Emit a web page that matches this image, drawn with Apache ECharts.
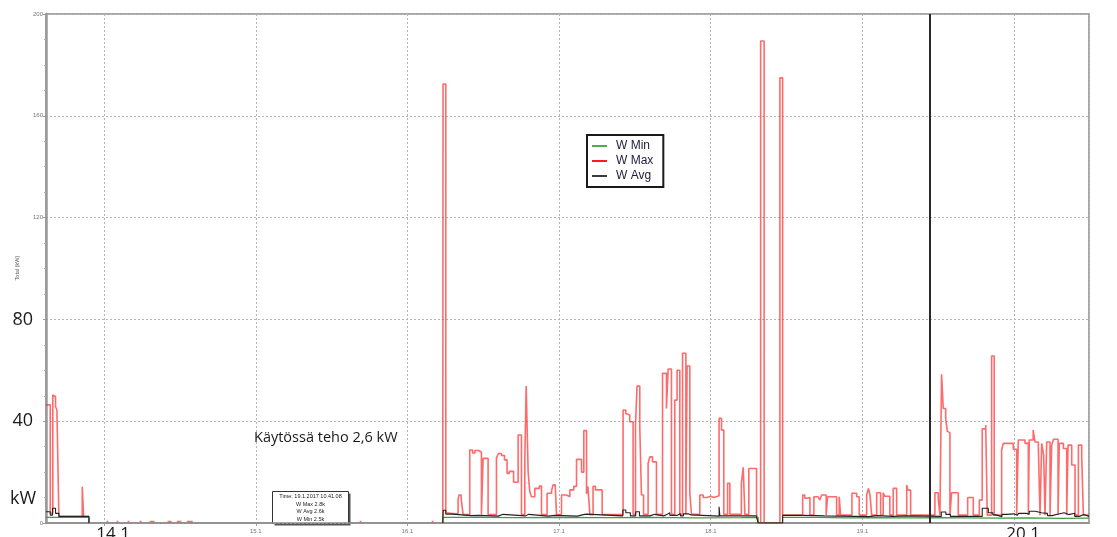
<!DOCTYPE html>
<html>
<head>
<meta charset="utf-8">
<script src="https://cdn.jsdelivr.net/npm/echarts@6/dist/echarts.min.js"></script>
<style>
  html, body { margin: 0; padding: 0; background: #fff; }
  #chart { width: 1117px; height: 537px; }
</style>
</head>
<body>
<div id="chart"></div>
<script>
// Time is given as day of January 2017 (fraction = time of day), power in kW.
const axisStart = 13.617;
const axisEnd = 20.494;
const cursorTime = '2017-01-19T10:41:08';

const seriesNames = ['W Min', 'W Max', 'W Avg'];

// Per-interval maximum power
const wMax = [
  [13.617, 46.4], [13.645, 3.8], [13.662, 50.3], [13.673, 49.6], [13.680, 45.7], [13.689, 44.4],
  [13.702, 2.5], [13.856, 14.2], [13.865, 2.5], [13.900, 0], [13.903, null],
  [14.016, 0.6], [14.028, 0.6], [14.029, null], [14.082, 0.6], [14.094, 0.6], [14.095, null],
  [14.155, 0.6], [14.167, 0.6], [14.168, null], [14.234, 0.6], [14.246, 0.6], [14.247, null],
  [14.300, 0.6], [14.333, 0.6], [14.334, null], [14.419, 0.6], [14.445, 0.6], [14.446, null],
  [14.480, 0.6], [14.510, 0.6], [14.511, null], [14.545, 0.6], [14.584, 0.6], [14.585, null],
  [15.685, 0.6], [15.697, 0.6], [15.698, null], [16.160, 0.6], [16.172, 0.6], [16.173, null],
  [16.233, 0], [16.235, 172.5], [16.253, 4.0], [16.262, 3.5], [16.334, 9.3], [16.340, 11.0],
  [16.355, 9.3], [16.367, 3.3], [16.411, 28.7], [16.430, 27.5], [16.445, 28.5], [16.470, 27.8],
  [16.488, 3.3], [16.499, 25.4], [16.532, 3.3], [16.587, 25.5], [16.600, 27.3], [16.620, 26.5],
  [16.640, 24.8], [16.657, 19.5], [16.672, 20.3], [16.700, 16.0], [16.730, 34.6], [16.752, 3.3],
  [16.774, 24.7], [16.783, 53.8], [16.796, 20.0], [16.807, 12.3], [16.818, 10.3], [16.840, 13.6],
  [16.870, 14.5], [16.884, 3.3], [16.921, 11.7], [16.950, 12.5], [16.960, 15.0], [16.975, 14.0],
  [16.983, 3.3], [17.016, 11.0], [17.049, 10.3], [17.071, 13.0], [17.097, 14.4], [17.115, 25.0],
  [17.148, 20.0], [17.163, 36.3], [17.181, 11.5], [17.190, 14.4], [17.203, 3.3], [17.224, 14.4],
  [17.240, 13.0], [17.284, 3.3], [17.422, 44.4], [17.440, 43.0], [17.452, 42.4], [17.466, 39.8],
  [17.488, 3.4], [17.504, 38.5], [17.514, 53.8], [17.532, 37.8], [17.543, 11.0], [17.557, 3.4],
  [17.587, 23.4], [17.598, 26.0], [17.616, 24.0], [17.642, 3.4], [17.682, 58.8], [17.708, 45.0],
  [17.719, 60.5], [17.741, 3.4], [17.763, 48.3], [17.778, 60.0], [17.796, 3.4], [17.814, 66.7],
  [17.836, 3.4], [17.844, 61.7], [17.862, 11.7], [17.873, 3.4], [17.928, 11.0], [17.950, 10.0],
  [17.975, 10.5], [18.000, 10.0], [18.020, 10.7], [18.055, 41.1], [18.071, 36.5], [18.086, 3.4],
  [18.111, 15.6], [18.126, 3.4], [18.202, 15.6], [18.214, 21.9], [18.225, 3.4], [18.251, 21.4],
  [18.302, 3.4], [18.313, 0], [18.329, 189.4], [18.352, 0], [18.456, 174.9], [18.474, 3.1],
  [18.606, 11.0], [18.620, 9.7], [18.635, 10.0], [18.654, 3.1], [18.680, 10.3], [18.708, 11.0],
  [18.719, 9.0], [18.731, 11.0], [18.761, 3.1], [18.770, 10.3], [18.830, 3.1], [18.847, 10.3],
  [18.856, 3.1], [18.931, 11.7], [18.962, 10.3], [18.979, 3.1], [19.028, 11.0], [19.040, 13.6],
  [19.050, 11.0], [19.061, 3.1], [19.094, 11.9], [19.120, 3.1], [19.137, 11.9], [19.148, 10.5],
  [19.181, 3.1], [19.203, 13.6], [19.226, 3.1], [19.292, 14.9], [19.300, 12.9], [19.318, 3.1],
  [19.478, 11.9], [19.500, 9.6], [19.511, 3.1], [19.522, 58.4], [19.533, 45.0], [19.549, 41.0],
  [19.560, 36.0], [19.566, 35.5], [19.577, 3.1], [19.588, 11.9], [19.632, 3.1], [19.694, 10.0],
  [19.731, 3.1], [19.771, 9.0], [19.790, 37.0], [19.813, 38.5], [19.823, 3.1], [19.852, 65.6],
  [19.869, 3.1], [19.918, 28.7], [19.929, 31.3], [19.995, 29.0], [20.017, 3.1], [20.028, 32.6],
  [20.072, 31.3], [20.094, 3.1], [20.100, 32.6], [20.126, 36.5], [20.138, 31.8], [20.160, 30.0],
  [20.171, 3.1], [20.182, 31.3], [20.195, 26.7], [20.204, 3.1], [20.215, 31.8], [20.237, 3.1],
  [20.248, 30.6], [20.260, 32.9], [20.290, 3.1], [20.298, 31.3], [20.325, 29.3], [20.347, 3.1],
  [20.356, 30.6], [20.380, 22.8], [20.402, 3.1], [20.424, 30.6], [20.446, 26.0], [20.457, 3.1],
  [20.494, 3.1]
];

// Per-interval average power
const wAvg = [
  [13.617, 4.4], [13.645, 3.1], [13.660, 5.8], [13.680, 3.8], [13.702, 2.6], [13.900, 0], [13.903, null],
  [16.233, 0], [16.236, 5.0], [16.253, 3.5], [16.300, 2.9], [16.420, 3.0], [16.470, 2.7],
  [16.600, 3.4], [16.630, 2.8], [16.780, 3.4], [16.800, 2.7], [16.930, 3.0], [16.970, 2.7],
  [17.120, 3.3], [17.160, 3.5], [17.180, 2.8], [17.420, 5.1], [17.440, 4.0], [17.470, 2.8],
  [17.505, 4.4], [17.530, 2.8], [17.600, 3.4], [17.630, 2.8], [17.690, 3.3], [17.710, 4.0],
  [17.730, 3.0], [17.780, 3.6], [17.800, 2.8], [17.820, 3.6], [17.850, 3.2], [17.870, 2.7],
  [18.055, 6.4], [18.060, 2.8], [18.300, 2.7], [18.313, 0], [18.474, 3.0], [18.610, 2.9],
  [18.700, 2.8], [18.750, 2.5], [19.040, 2.9], [19.100, 2.6], [19.200, 2.8], [19.300, 2.6],
  [19.520, 4.3], [19.550, 3.4], [19.580, 2.6], [19.790, 5.8], [19.830, 4.0], [19.860, 3.2],
  [19.880, 2.5], [19.920, 3.4], [19.950, 3.6], [20.000, 3.0], [20.020, 2.6], [20.030, 3.8],
  [20.080, 3.4], [20.100, 4.6], [20.140, 4.0], [20.180, 3.8], [20.220, 2.9], [20.250, 3.6],
  [20.300, 4.0], [20.330, 3.3], [20.360, 3.8], [20.400, 2.6], [20.430, 3.3], [20.460, 2.6],
  [20.494, 2.6]
];

// Per-interval minimum power
const wMin = [
  [13.617, 2.2], [13.900, 0], [13.903, null],
  [16.233, 0], [16.236, 2.2], [16.500, 2.1], [16.700, 2.2], [17.000, 2.1], [17.300, 2.2],
  [17.600, 2.0], [17.900, 2.1], [18.200, 2.2], [18.313, 0], [18.474, 2.2], [18.700, 2.0],
  [18.900, 2.1], [19.100, 2.0], [19.300, 2.1], [19.500, 2.0], [19.700, 1.9], [19.900, 2.0],
  [20.100, 1.8], [20.300, 1.9], [20.494, 1.9]
];

// Highlighted y tick labels and x day labels drawn in the large font
const bigYLabels = [40, 80];
const bigXDays = [14, 20];

const note = 'Käytössä teho 2,6 kW';
const unitLabel = 'kW';
const yAxisTitle = 'Total (kW)';
const infoLines = ['Time: 19.1.2017 10.41.08', 'W Max 2.8k', 'W Avg 2.6k', 'W Min 2.5k'];

const jan1 = new Date(2017, 0, 1).getTime();
const toTime = d => jan1 + (d - 1) * 86400000;
const toSeries = pts => pts.map(([d, v]) => [toTime(d), v]);

const chart = echarts.init(document.getElementById('chart'), null, { renderer: 'canvas' });

const FONT = 'Liberation Sans';
const BIG_FONT = 'Open Sans';

chart.setOption({
  animation: false,
  backgroundColor: '#ffffff',
  grid: {
    left: 46, right: 28, top: 14, bottom: 14,
    show: true, borderColor: '#8c8c8c', borderWidth: 1.5,
    outerBoundsMode: 'none'
  },
  legend: {
    data: seriesNames,
    orient: 'vertical',
    left: 587, top: 135,
    padding: [5, 10, 5, 5],
    itemGap: 3,
    itemWidth: 15, itemHeight: 2,
    icon: 'rect',
    borderColor: '#1a1a1a', borderWidth: 2,
    backgroundColor: '#fff',
    textStyle: { fontFamily: FONT, fontSize: 12, color: '#1d1d3a', padding: [0, 0, 0, 4] }
  },
  xAxis: {
    type: 'time',
    min: toTime(axisStart), max: toTime(axisEnd),
    minInterval: 86400000, maxInterval: 86400000,
    axisLine: { show: true, lineStyle: { color: '#8c8c8c', width: 1.5 } },
    axisTick: { show: true, length: 3, lineStyle: { color: '#999' } },
    splitLine: { show: true, lineStyle: { color: '#b5b5b5', type: [2, 2], width: 1 } },
    axisLabel: {
      showMinLabel: false, showMaxLabel: false,
      margin: 3,
      hideOverlap: false,
      formatter: function (val) {
        const d = new Date(val);
        const s = d.getDate() + '.' + (d.getMonth() + 1);
        return bigXDays.indexOf(d.getDate()) >= 0 ? '{big|' + s + '}' : '{sm|' + s + '}';
      },
      rich: {
        sm: { fontFamily: FONT, fontSize: 6, color: '#777', padding: [2, 0, 0, 0] },
        big: { fontFamily: BIG_FONT, fontSize: 17, color: '#1a1a1a', padding: [0, 0, 0, 18], verticalAlign: 'top' }
      }
    }
  },
  yAxis: {
    type: 'value',
    min: 0, max: 200, interval: 40,
    axisLine: { show: true, lineStyle: { color: '#9a9a9a', width: 2.5 } },
    axisTick: { show: true, length: 3, lineStyle: { color: '#999' } },
    minorTick: { show: true, splitNumber: 4, length: 2, lineStyle: { color: '#aaa' } },
    splitLine: { show: true, lineStyle: { color: '#b5b5b5', type: [2, 2], width: 1 } },
    axisLabel: {
      margin: 3,
      formatter: function (v) {
        return bigYLabels.indexOf(v) >= 0 ? '{big|' + v + '}' : '{sm|' + v + '}';
      },
      rich: {
        sm: { fontFamily: FONT, fontSize: 6, color: '#777' },
        big: { fontFamily: BIG_FONT, fontSize: 18, color: '#1a1a1a', padding: [0, 10, 0, 0] }
      }
    }
  },
  series: [
    {
      name: 'W Max', type: 'line', step: 'end', showSymbol: false,
      color: '#ff1a1a',
      lineStyle: { color: '#ff3030', width: 1.6, opacity: 0.72 },
      data: toSeries(wMax), z: 2
    },
    {
      name: 'W Min', type: 'line', step: 'end', showSymbol: false,
      color: '#4caf50',
      lineStyle: { color: '#3f9f3f', width: 1.1 },
      data: toSeries(wMin), z: 3
    },
    {
      name: 'W Avg', type: 'line', step: 'end', showSymbol: false,
      color: '#3a3a3a',
      lineStyle: { color: '#222', width: 1.1 },
      data: toSeries(wAvg), z: 4,
      markLine: {
        silent: true, symbol: 'none', animation: false,
        label: { show: false },
        lineStyle: { color: '#2a2a2a', width: 2, type: 'solid' },
        data: [{ xAxis: new Date(cursorTime).getTime() }]
      }
    }
  ],
  graphic: [
    {
      type: 'text', x: 17, y: 268, rotation: Math.PI / 2, z: 10,
      style: { text: yAxisTitle, fontFamily: FONT, fontSize: 5.5, fill: '#555', align: 'center', verticalAlign: 'middle' }
    },
    {
      type: 'text', left: 10, top: 490, z: 10,
      style: { text: unitLabel, fontFamily: BIG_FONT, fontSize: 18, fill: '#1a1a1a' }
    },
    {
      type: 'text', left: 254, top: 430, z: 10,
      style: { text: note, fontFamily: BIG_FONT, fontSize: 14.5, fill: '#1a1a1a' }
    },
    {
      type: 'group', left: 272, top: 491, z: 20,
      children: [
        { type: 'rect', shape: { x: 2, y: 2, width: 76, height: 32 }, style: { fill: '#555' } },
        { type: 'rect', shape: { x: 0, y: 0, width: 76, height: 32 }, style: { fill: '#fff', stroke: '#333', lineWidth: 1 } },
        { type: 'text', x: 38, y: 2, style: { text: infoLines[0], fontFamily: FONT, fontSize: 5.5, fill: '#222', align: 'center' } },
        { type: 'text', x: 38, y: 9.5, style: { text: infoLines[1], fontFamily: FONT, fontSize: 5.5, fill: '#222', align: 'center' } },
        { type: 'text', x: 38, y: 17, style: { text: infoLines[2], fontFamily: FONT, fontSize: 5.5, fill: '#222', align: 'center' } },
        { type: 'text', x: 38, y: 24.5, style: { text: infoLines[3], fontFamily: FONT, fontSize: 5.5, fill: '#222', align: 'center' } }
      ]
    }
  ]
});
</script>
</body>
</html>
